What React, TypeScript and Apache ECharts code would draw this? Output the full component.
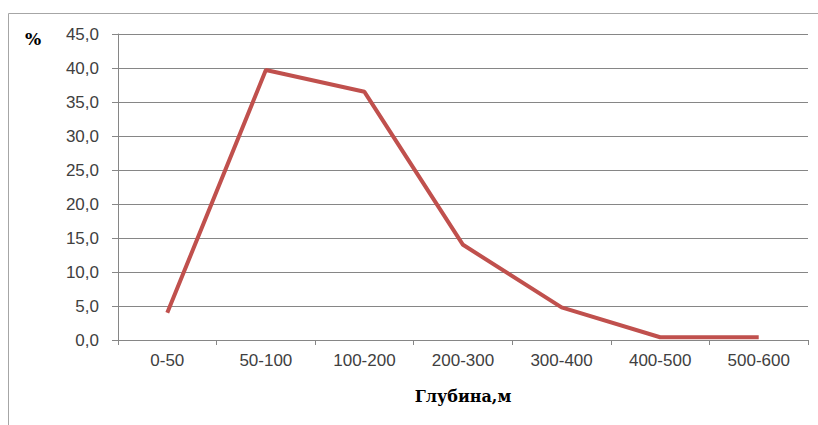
import React, { useEffect, useRef } from "react";
import * as echarts from "echarts";

const categories = ["0-50", "50-100", "100-200", "200-300", "300-400", "400-500", "500-600"];
const values = [4.0, 39.7, 36.5, 14.0, 4.8, 0.4, 0.4];
const yTitle = "%";
const xTitle = "Глубина,м";

export default function App() {
  const ref = useRef<HTMLDivElement>(null);
  useEffect(() => {
    if (!ref.current) return;
    const chart = echarts.init(ref.current, null, { renderer: "svg" });
    const grey = "#868686";
    chart.setOption({
      animation: false,
      backgroundColor: "#ffffff",
      grid: { left: 118, top: 34, right: 10, bottom: 85, containLabel: false },
      graphic: [
        {
          type: "rect",
          shape: { x: 8.5, y: 13.5, width: 830, height: 430 },
          style: { fill: "none", stroke: "#a6a6a6", lineWidth: 1 },
          silent: true,
        },
        {
          type: "text",
          x: 25,
          y: 39,
          style: {
            text: yTitle,
            font: "bold 17px 'DejaVu Serif', serif",
            fill: "#000",
            verticalAlign: "middle",
          },
        },
        {
          type: "text",
          x: 463,
          y: 396,
          style: {
            text: xTitle,
            font: "bold 16px 'DejaVu Serif', serif",
            fill: "#000",
            align: "center",
            verticalAlign: "middle",
          },
        },
      ],
      xAxis: {
        type: "category",
        data: categories,
        boundaryGap: true,
        axisLine: { show: true, lineStyle: { color: grey, width: 1 } },
        axisTick: { show: true, interval: 0, length: 5, lineStyle: { color: grey } },
        axisLabel: {
          interval: 0,
          margin: 12,
          color: "#404040",
          fontSize: 17,
          fontFamily: "'Liberation Sans', Arial, sans-serif",
        },
        splitLine: { show: false },
      },
      yAxis: {
        type: "value",
        min: 0,
        max: 45,
        interval: 5,
        axisLine: { show: true, lineStyle: { color: grey, width: 1 } },
        axisTick: { show: true, length: 6, lineStyle: { color: grey } },
        axisLabel: {
          margin: 19,
          color: "#404040",
          fontSize: 17,
          fontFamily: "'Liberation Sans', Arial, sans-serif",
          formatter: (v: number) => v.toFixed(1).replace(".", ","),
        },
        splitLine: { show: true, lineStyle: { color: grey, width: 1 } },
      },
      series: [
        {
          type: "line",
          data: values,
          symbol: "none",
          lineStyle: { color: "#c0504d", width: 4 },
          itemStyle: { color: "#c0504d" },
        },
      ],
    });
    return () => chart.dispose();
  }, []);
  return (
    <div
      ref={ref}
      style={{ position: "fixed", left: 0, top: 0, width: 818, height: 425 }}
    />
  );
}
